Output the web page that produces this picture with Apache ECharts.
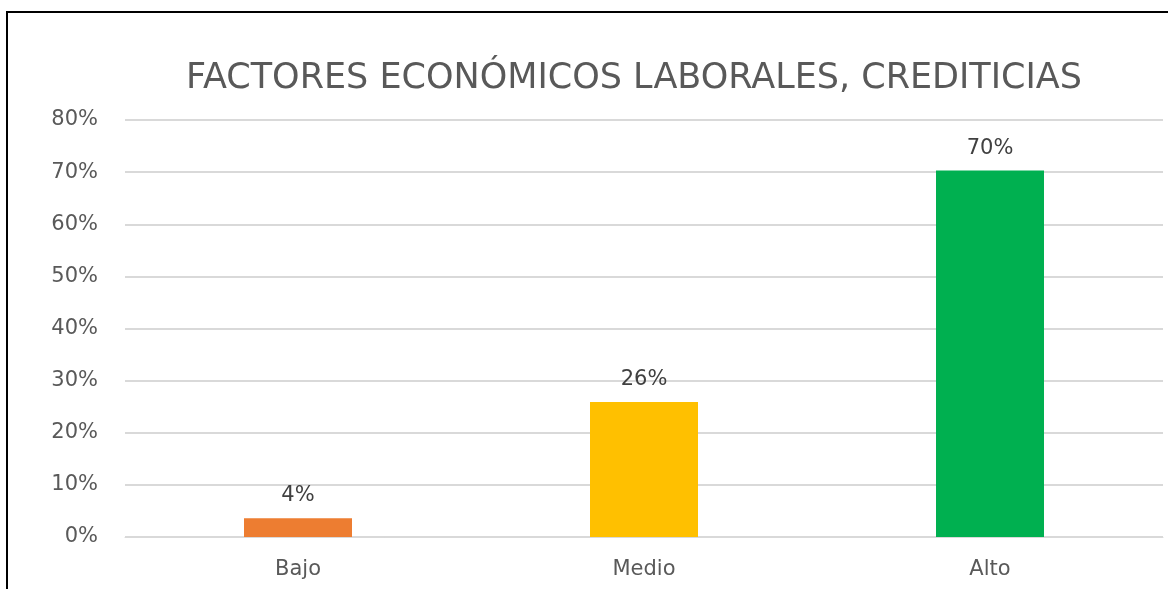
<!DOCTYPE html>
<html>
<head>
<meta charset="utf-8">
<script src="https://cdn.jsdelivr.net/npm/echarts@6/dist/echarts.min.js"></script>
<style>
html,body{margin:0;padding:0;background:#fff;}
#frame{position:absolute;left:0;top:0;width:1168px;height:589px;}
#border{position:absolute;left:6px;top:11px;width:1170px;height:600px;border-left:2px solid #000;border-top:2px solid #000;box-sizing:border-box;}
#chart{position:absolute;left:0;top:0;width:1168px;height:589px;}
</style>
</head>
<body>
<div id="frame">
<div id="border"></div>
<div id="chart"></div>
</div>
<script>
const categories = ['Bajo', 'Medio', 'Alto'];
const values = [3.6, 25.9, 70.3];
const colors = ['#ED7D31', '#FFC000', '#00B050'];
const yTicks = [0, 10, 20, 30, 40, 50, 60, 70, 80];
const titleText = 'FACTORES ECONÓMICOS LABORALES, CREDITICIAS';

const font = '"DejaVu Sans", "Noto Sans", sans-serif';
const chart = echarts.init(document.getElementById('chart'), null, {renderer: 'canvas'});
chart.setOption({
  backgroundColor: 'transparent',
  animation: false,
  title: {
    text: titleText,
    left: 629, top: 56, textAlign: 'center',
    textStyle: {fontFamily: font, fontSize: 35, fontWeight: 'normal', color: '#595959'}
  },
  grid: {left: 125, right: 5, top: 120, bottom: 52, containLabel: false},
  xAxis: {
    type: 'category',
    data: categories,
    axisLine: {show: true, lineStyle: {color: '#D9D9D9', width: 1}},
    axisTick: {show: false},
    axisLabel: {fontFamily: font, fontSize: 21, color: '#595959', margin: 22}
  },
  yAxis: {
    type: 'value',
    min: yTicks[0], max: yTicks[yTicks.length - 1], interval: 10,
    axisLine: {show: false},
    axisTick: {show: false},
    splitLine: {lineStyle: {color: '#D9D9D9', width: 2}},
    axisLabel: {fontFamily: font, fontSize: 21, color: '#595959', margin: 27,
      formatter: v => v + '%'}
  },
  series: [{
    type: 'bar',
    barWidth: 108,
    data: values.map((v, i) => ({value: v, itemStyle: {color: colors[i]}})),
    label: {
      show: true, position: 'top', distance: 12,
      fontFamily: font, fontSize: 21, color: '#404040',
      formatter: p => Math.round(p.value) + '%'
    }
  }]
});
</script>
</body>
</html>
